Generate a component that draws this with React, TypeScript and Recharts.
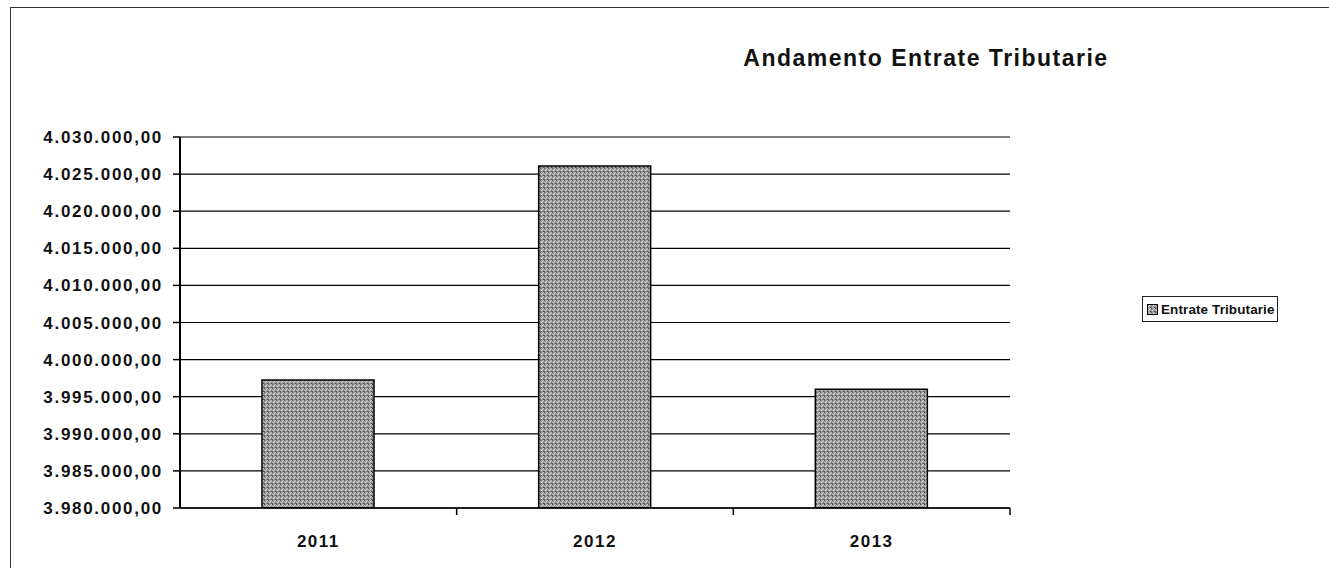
import { BarChart, Bar, XAxis, YAxis, CartesianGrid, Legend } from 'recharts';

const years = ['2011', '2012', '2013'];
const entrateTributarie = [3997250, 4026100, 3996000];
const yTicks = [
  3980000, 3985000, 3990000, 3995000, 4000000, 4005000, 4010000, 4015000, 4020000, 4025000, 4030000,
];
const chartTitle = 'Andamento Entrate Tributarie';
const seriesName = 'Entrate Tributarie';

const data = years.map((year, i) => ({ year, value: entrateTributarie[i] }));

const FONT = '"Liberation Sans", Arial, sans-serif';
const CHART_W = 1329;
const CHART_H = 568;
const PLOT_LEFT = 180;
const PLOT_RIGHT = 1010;
const HALF_BAND = (PLOT_RIGHT - PLOT_LEFT) / years.length / 2;

// italian number format: 4.030.000,00
function formatIt(v: number) {
  const s = Math.round(v).toString().replace(/\B(?=(\d{3})+(?!\d))/g, '.');
  return s + ',00';
}

function YearTick({ x, y, payload }: any) {
  return (
    <g>
      <line x1={x + HALF_BAND} y1={y} x2={x + HALF_BAND} y2={y + 7} stroke="#000" strokeWidth={1.5} />
      <text
        x={x}
        y={y + 39}
        textAnchor="middle"
        fontFamily={FONT}
        fontWeight="bold"
        fontSize={17}
        letterSpacing={1.5}
        fill="#111"
      >
        {payload.value}
      </text>
    </g>
  );
}

function LegendBox() {
  return (
    <div
      style={{
        width: 136,
        height: 26,
        border: '1px solid #222',
        background: '#fff',
        display: 'flex',
        alignItems: 'center',
        whiteSpace: 'nowrap',
        fontFamily: FONT,
        fontWeight: 'bold',
        fontSize: 13.5,
        letterSpacing: 0.1,
        color: '#111',
        boxSizing: 'border-box',
        paddingLeft: 4,
      }}
    >
      <svg width={11} height={11} style={{ marginRight: 3, flex: 'none' }}>
        <rect x={0.5} y={0.5} width={10} height={10} fill="url(#grain)" stroke="#000" />
      </svg>
      {seriesName}
    </div>
  );
}

export default function App() {
  return (
    <div style={{ position: 'absolute', left: 0, top: 0, width: CHART_W, height: CHART_H, background: '#fff' }}>
      {/* frame of the scanned chart */}
      <div
        style={{
          position: 'absolute',
          left: 10,
          top: 7,
          width: CHART_W - 10,
          height: CHART_H,
          borderTop: '1.5px solid #333',
          borderLeft: '1px solid #333',
        }}
      />
      <div
        style={{
          position: 'absolute',
          left: 676,
          width: 500,
          top: 45,
          textAlign: 'center',
          fontFamily: FONT,
          fontWeight: 'bold',
          fontSize: 23,
          letterSpacing: 1.5,
          color: '#111',
        }}
      >
        {chartTitle}
      </div>
      <BarChart
        width={CHART_W}
        height={CHART_H}
        data={data}
        margin={{ top: 137, right: CHART_W - PLOT_RIGHT, bottom: 20, left: 10 }}
        style={{ position: 'absolute', left: 0, top: 0 }}
      >
        <defs>
          <pattern id="grain" width={4} height={4} patternUnits="userSpaceOnUse">
            <rect width={4} height={4} fill="#9c9c9c" />
            <rect x={0} y={0} width={1} height={1} fill="#555" />
            <rect x={2} y={1} width={1} height={1} fill="#dedede" />
            <rect x={1} y={2} width={1} height={1} fill="#d0d0d0" />
            <rect x={3} y={3} width={1} height={1} fill="#4a4a4a" />
            <rect x={3} y={0} width={1} height={1} fill="#c4c4c4" />
            <rect x={0} y={3} width={1} height={1} fill="#6c6c6c" />
          </pattern>
        </defs>
        <CartesianGrid vertical={false} stroke="#000" strokeWidth={1.2} />
        <XAxis
          dataKey="year"
          height={40}
          tickLine={false}
          tickSize={0}
          tickMargin={0}
          axisLine={{ stroke: '#000', strokeWidth: 1.5 }}
          tick={<YearTick />}
          interval={0}
        />
        <YAxis
          width={170}
          domain={[3980000, 4030000]}
          ticks={yTicks}
          allowDataOverflow
          tickFormatter={formatIt}
          tickSize={7}
          tickMargin={10}
          tickLine={{ stroke: '#000', strokeWidth: 1.5 }}
          axisLine={{ stroke: '#000', strokeWidth: 2 }}
          tick={{ fill: '#111', fontFamily: FONT, fontWeight: 'bold', fontSize: 17, letterSpacing: 1.7 }}
        />
        <Legend
          layout="vertical"
          align="center"
          verticalAlign="middle"
          wrapperStyle={{ left: 1142, top: 296, width: 136 }}
          content={<LegendBox />}
        />
        <Bar
          dataKey="value"
          name={seriesName}
          barSize={112}
          fill="url(#grain)"
          stroke="#000"
          strokeWidth={1.5}
          isAnimationActive={false}
        />
      </BarChart>
    </div>
  );
}
